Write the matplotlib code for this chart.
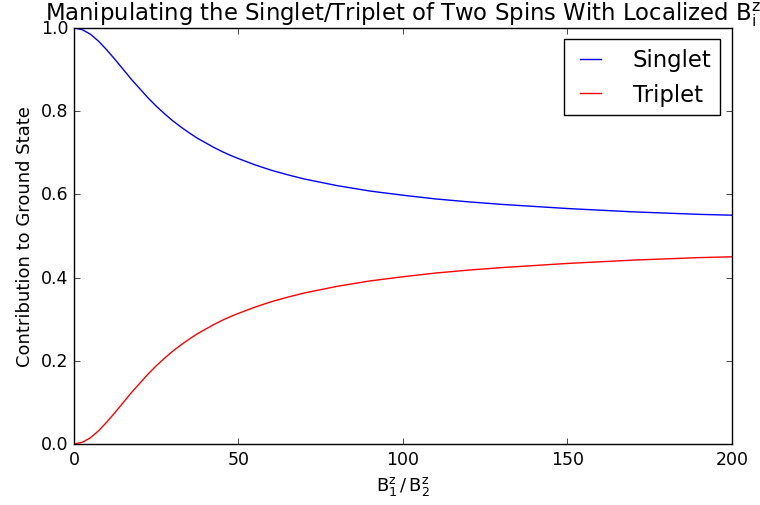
import matplotlib
matplotlib.use("Agg")
import matplotlib.pyplot as plt

plt.style.use('classic')
plt.rcParams.update({
    'mathtext.fontset': 'dejavusans',
    'mathtext.default': 'regular',
    'xtick.labelsize': 12.5,
    'ytick.labelsize': 12.5,
    'axes.labelsize': 13,
})

# values
ratio = [0, 2.5, 5, 7.5, 10, 12.5, 15, 17.5, 20, 22.5, 25, 27.5, 30, 32.5,
         35, 37.5, 40, 42.5, 45, 47.5, 50, 55, 60, 65, 70, 75, 80, 90, 100,
         110, 120, 130, 140, 150, 160, 170, 180, 190, 200]
singlet = [1.000, 0.996, 0.985, 0.968, 0.947, 0.924, 0.900, 0.876, 0.854,
           0.832, 0.812, 0.794, 0.777, 0.762, 0.748, 0.735, 0.724, 0.713,
           0.703, 0.694, 0.686, 0.671, 0.658, 0.647, 0.637, 0.629, 0.621,
           0.608, 0.598, 0.589, 0.582, 0.576, 0.571, 0.566, 0.562, 0.558,
           0.555, 0.552, 0.550]
triplet = [0.000, 0.004, 0.015, 0.032, 0.053, 0.076, 0.100, 0.124, 0.146,
           0.168, 0.188, 0.206, 0.223, 0.238, 0.252, 0.265, 0.276, 0.287,
           0.297, 0.306, 0.314, 0.329, 0.342, 0.353, 0.363, 0.371, 0.379,
           0.392, 0.402, 0.411, 0.418, 0.424, 0.429, 0.434, 0.438, 0.442,
           0.445, 0.448, 0.450]

fig = plt.figure(figsize=(7.6, 5.06), dpi=100)
ax = fig.add_subplot(111)
fig.subplots_adjust(left=0.0974, right=0.963, bottom=0.1206, top=0.9427)

ax.plot(ratio, singlet, color='b', label='Singlet')
ax.plot(ratio, triplet, color='r', label='Triplet')

ax.set_xlim(0, 200)
ax.set_ylim(0, 1.0)
ax.set_title('Manipulating the Singlet/Triplet of Two Spins With Localized B$_i^z$',
             fontsize=16.4, pad=6)
ax.set_xlabel(r'B$_1^z\,/\,$B$_2^z$')
ax.set_ylabel('Contribution to Ground State')
ax.legend(loc='upper right', fontsize=16.4, handlelength=1.5, handletextpad=1.1)

fig.savefig('out.png', dpi=100)
